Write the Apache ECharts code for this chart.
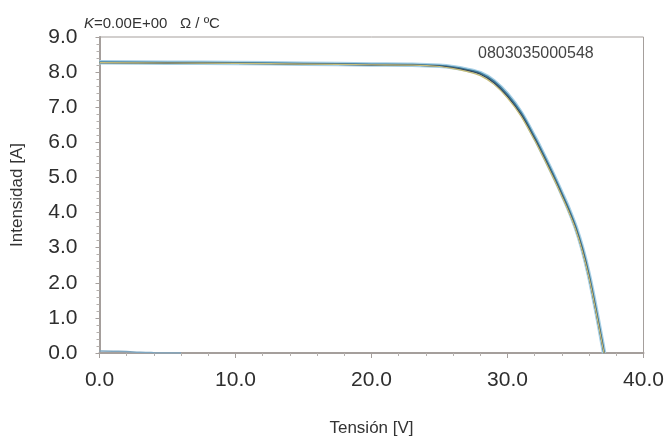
<!DOCTYPE html>
<html>
<head>
<meta charset="utf-8">
<script src="https://cdn.jsdelivr.net/npm/echarts@6/dist/echarts.min.js"></script>
<style>
  html, body { margin: 0; padding: 0; background: #fff; }
  #chart { width: 670px; height: 439px; }
</style>
</head>
<body>
<div id="chart"></div>
<script>
// I-V curves: tension [V], intensidad [A]
var voltage = [0, 5, 10, 15, 20, 23, 25, 26, 27, 28, 29, 30, 31, 32, 32.4, 33, 33.6, 34, 34.5, 35, 35.5, 36, 36.5, 37, 37.1]
var curveBlue = [8.28, 8.27, 8.26, 8.24, 8.22, 8.21, 8.18, 8.14, 8.07, 7.97, 7.74, 7.36, 6.84, 6.14, 5.84, 5.37, 4.88, 4.54, 4.1, 3.6, 2.98, 2.2, 1.25, 0.22, 0]
var curveDark = [8.27, 8.26, 8.25, 8.23, 8.21, 8.2, 8.17, 8.12, 8.05, 7.94, 7.7, 7.31, 6.79, 6.09, 5.79, 5.32, 4.83, 4.49, 4.05, 3.56, 2.94, 2.16, 1.21, 0.2, 0]
var curveYellow = [8.27, 8.26, 8.25, 8.23, 8.21, 8.2, 8.16, 8.1, 8.02, 7.9, 7.65, 7.26, 6.74, 6.05, 5.75, 5.28, 4.8, 4.46, 4.02, 3.53, 2.91, 2.14, 1.19, 0.18, 0]
// dark curve near zero
var darkV = [0, 1, 2, 3, 4, 6]
var darkI = [0.06, 0.05, 0.04, 0.02, 0.01, 0]

var xTicks = [0, 10, 20, 30, 40]
var yTicks = [0, 1, 2, 3, 4, 5, 6, 7, 8, 9]

function pairs(xs, ys) {
  return xs.map(function(x, i) { return [x, ys[i]] })
}

var chart = echarts.init(document.getElementById('chart'))
var font = 'Liberation Sans, Arial, sans-serif'

function curve(name, ys, color, width) {
  return {
    name: name,
    type: 'line',
    smooth: 0.3,
    showSymbol: false,
    data: pairs(voltage, ys),
    lineStyle: { color: color, width: width }
  }
}

chart.setOption({
  animation: false,
  grid: {
    left: 99.5,
    right: 26.5,
    top: 37,
    bottom: 86,
    containLabel: false,
    outerBoundsMode: 'none',
    show: true,
    borderColor: '#a59f9c',
    borderWidth: 1
  },
  title: [
    {
      text: '{k|K}=0.00E+00   Ω / ºC',
      left: 79,
      top: 11,
      textStyle: {
        fontFamily: font,
        fontSize: 15,
        fontWeight: 'normal',
        color: '#333',
        rich: { k: { fontStyle: 'italic', fontFamily: font, fontSize: 15, color: '#333' } }
      }
    },
    {
      text: '0803035000548',
      left: 473,
      top: 41,
      textStyle: { fontFamily: font, fontSize: 16, fontWeight: 'normal', color: '#444' }
    }
  ],
  xAxis: {
    type: 'value',
    min: xTicks[0],
    max: xTicks[xTicks.length - 1],
    interval: 10,
    name: 'Tensión [V]',
    nameLocation: 'middle',
    nameGap: 67,
    nameTextStyle: { fontFamily: font, fontSize: 17, color: '#333' },
    axisLine: { lineStyle: { color: '#a59f9c', width: 2 } },
    axisTick: { show: true, length: 5, lineStyle: { color: '#a59f9c' } },
    minorTick: { show: true, splitNumber: 5, length: 3, lineStyle: { color: '#b5b0ad' } },
    splitLine: { show: false },
    axisLabel: {
      fontFamily: font,
      fontSize: 21,
      color: '#2e2e2e',
      margin: 17,
      formatter: function(v) { return v.toFixed(1) }
    }
  },
  yAxis: {
    type: 'value',
    min: yTicks[0],
    max: yTicks[yTicks.length - 1],
    interval: 1,
    name: 'Intensidad [A]',
    nameLocation: 'middle',
    nameGap: 74,
    nameTextStyle: { fontFamily: font, fontSize: 17, color: '#333' },
    axisLine: { show: true, lineStyle: { color: '#a59f9c', width: 2 } },
    axisTick: { show: true, length: 4, lineStyle: { color: '#a59f9c' } },
    minorTick: { show: true, splitNumber: 5, length: 3, lineStyle: { color: '#b5b0ad' } },
    splitLine: { show: false },
    axisLabel: {
      fontFamily: font,
      fontSize: 21,
      color: '#2e2e2e',
      margin: 22,
      formatter: function(v) { return v.toFixed(1) }
    }
  },
  series: [
    curve('halo', curveBlue, '#a6cfe6', 4.5),
    curve('blue', curveBlue, '#3f7e9e', 2),
    curve('dark', curveDark, '#35465a', 1.3),
    curve('yellow', curveYellow, '#c8bd78', 1.2),
    {
      name: 'dark current',
      type: 'line',
      smooth: true,
      showSymbol: false,
      data: pairs(darkV, darkI),
      lineStyle: { color: '#7fa6c0', width: 1.5 }
    }
  ]
})
</script>
</body>
</html>
